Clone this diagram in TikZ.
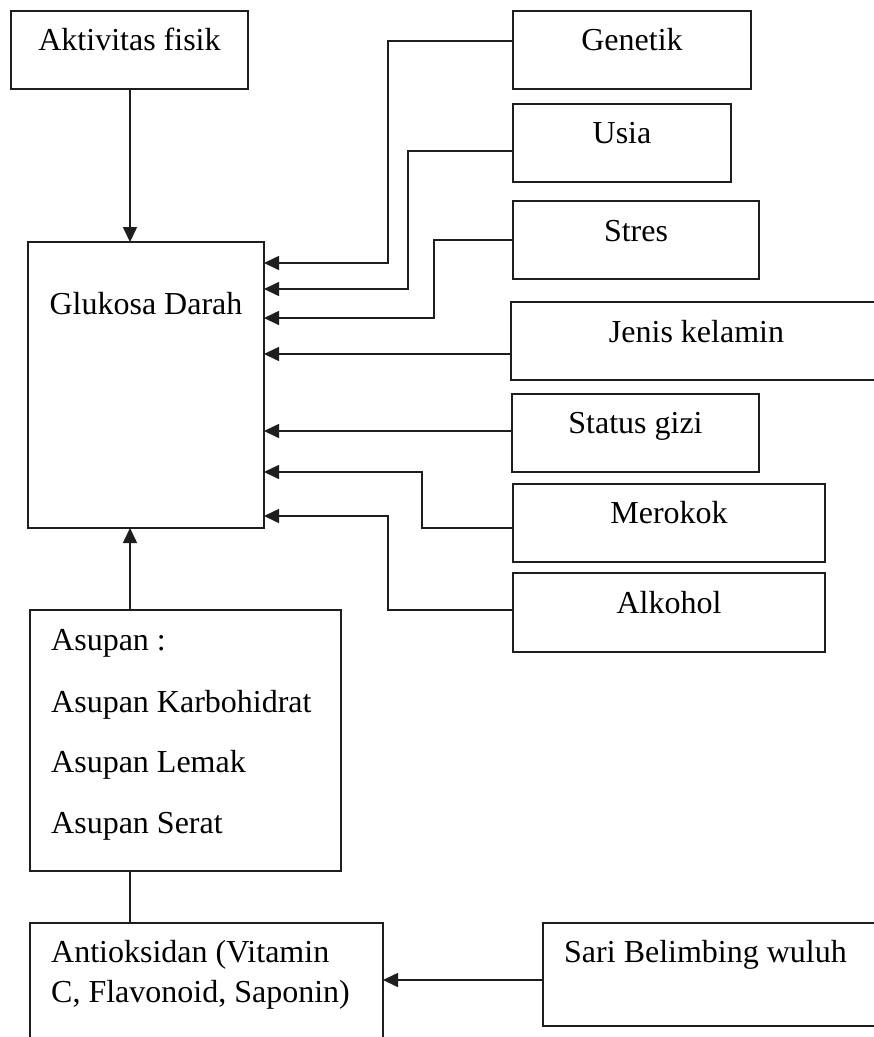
\documentclass[tikz,border=0pt]{standalone}
\usepackage{fontspec}
\setmainfont{Liberation Serif}
\usetikzlibrary{arrows.meta}
\definecolor{ink}{RGB}{30,30,30}
\tikzset{
  box/.style={draw=ink, line width=2.4pt, rectangle, inner sep=0pt, outer sep=0pt},
  lbl/.style={font=\fontsize{32}{38}\selectfont, text=black, inner sep=0pt, anchor=base},
  lblw/.style={lbl, anchor=base west},
  conn/.style={draw=ink, line width=1.6pt},
  arr/.style={conn, -{Triangle[length=15pt,width=14pt]}}
}
\begin{document}
\begin{tikzpicture}[x=1pt, y=-1pt]
\clip (0,0) rectangle (874,1037);
\fill[white] (0,0) rectangle (874,1037);
% boxes
\node[box, minimum width=237pt, minimum height=78pt] (akt) at (129.5,50) {};
\node[box, minimum width=236pt, minimum height=286pt] (glu) at (146,385) {};
\node[box, minimum width=238pt, minimum height=78pt] (gen) at (632,50) {};
\node[box, minimum width=218pt, minimum height=78pt] (usia) at (622,143) {};
\node[box, minimum width=246pt, minimum height=78pt] (stres) at (636,240) {};
\node[box, minimum width=371pt, minimum height=78pt] (jenis) at (696.5,341) {};
\node[box, minimum width=247pt, minimum height=78pt] (gizi) at (635.5,433) {};
\node[box, minimum width=312pt, minimum height=78pt] (merokok) at (669,523) {};
\node[box, minimum width=312pt, minimum height=79pt] (alkohol) at (669,612.5) {};
\node[box, minimum width=311pt, minimum height=261pt] (asupan) at (185.5,740.5) {};
\node[box, minimum width=353pt, minimum height=137pt] (anti) at (206.5,991.5) {};
\node[box, minimum width=362pt, minimum height=103pt] (sari) at (724,974.5) {};
% labels
\node[lbl] (takt) at (akt.center) {Aktivitas fisik};
\node[lbl] (tglu) at (146,314) {Glukosa Darah};
\node[lbl] (tgen) at (gen.center) {Genetik};
\node[lbl] (tusia) at (usia.center) {Usia};
\node[lbl] (tstres) at (636,241) {Stres};
\node[lbl] (tjenis) at (696.5,342) {Jenis kelamin};
\node[lbl] (tgizi) at (gizi.center) {Status gizi};
\node[lbl] (tmer) at (merokok.center) {Merokok};
\node[lbl] (talk) at (669,613) {Alkohol};
\node[lblw] (tas1) at (51,650) {Asupan :};
\node[lblw] (tas2) at (51,712) {Asupan Karbohidrat};
\node[lblw] (tas3) at (51,772) {Asupan Lemak};
\node[lblw] (tas4) at (51,833) {Asupan Serat};
\node[lblw] (tan1) at (51,962) {Antioksidan (Vitamin};
\node[lblw] (tan2) at (51,1002) {C, Flavonoid, Saponin)};
\node[lblw] (tsari) at (564,962) {Sari Belimbing wuluh};
% connectors
\draw[arr] (130,0 |- akt.south) -- (130,0 |- glu.north);
\draw[arr] (130,0 |- asupan.north) -- (130,0 |- glu.south);
\draw[conn] (130,0 |- asupan.south) -- (130,0 |- anti.north);
\draw[arr] (sari.west |- 0,980) -- (anti.east |- 0,980);
\draw[arr] (gen.west |- 0,41) -- (388,41) -- (388,263) -- (glu.east |- 0,263);
\draw[arr] (usia.west |- 0,151) -- (408,151) -- (408,289) -- (glu.east |- 0,289);
\draw[arr] (stres.west |- 0,240) -- (434,240) -- (434,318) -- (glu.east |- 0,318);
\draw[arr] (jenis.west |- 0,354) -- (glu.east |- 0,354);
\draw[arr] (gizi.west |- 0,431) -- (glu.east |- 0,431);
\draw[arr] (merokok.west |- 0,528) -- (422,528) -- (422,472) -- (glu.east |- 0,472);
\draw[arr] (alkohol.west |- 0,610) -- (388,610) -- (388,516) -- (glu.east |- 0,516);
\end{tikzpicture}
\end{document}
